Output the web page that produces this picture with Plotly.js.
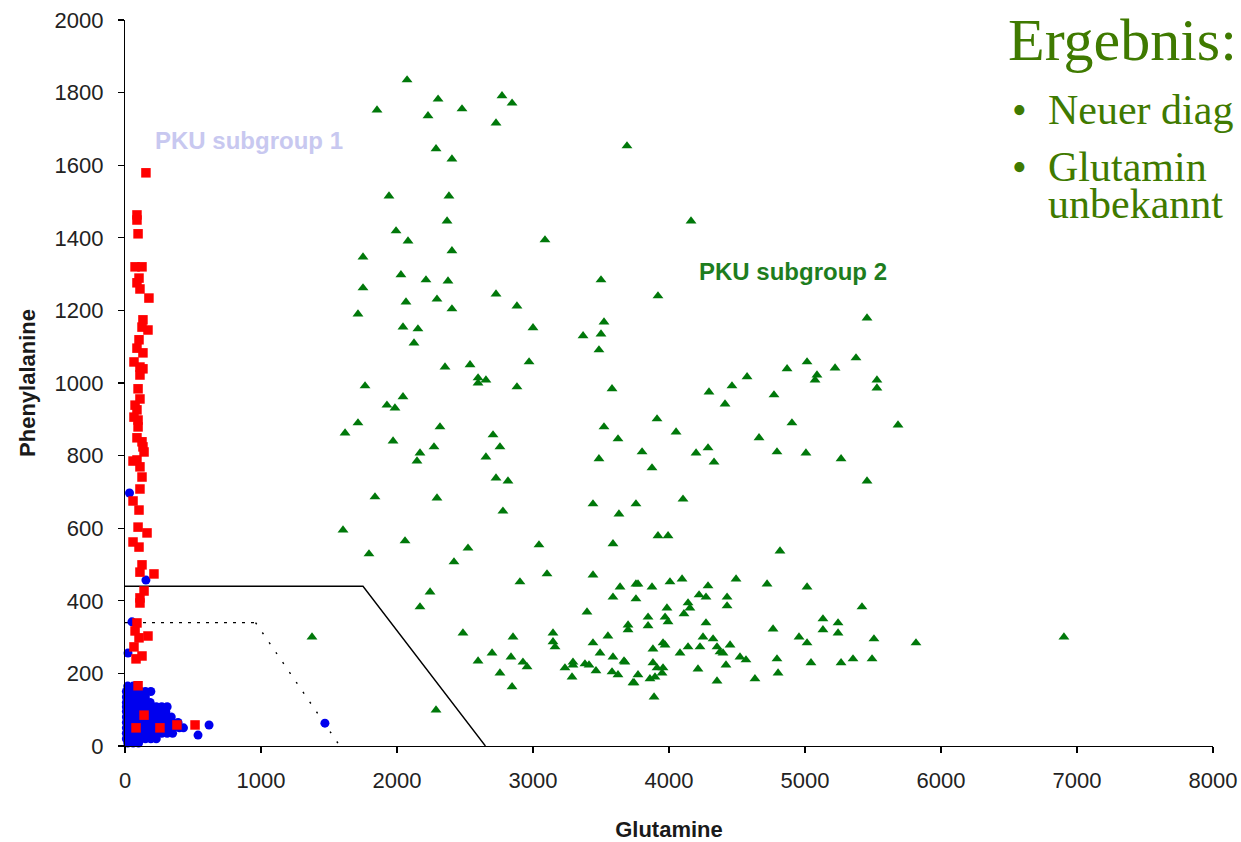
<!DOCTYPE html>
<html>
<head>
<meta charset="utf-8">
<script src="https://cdn.plot.ly/plotly-3.0.1.min.js"></script>
<style>
html,body{margin:0;padding:0;background:#fff;overflow:hidden;}
#chart{width:1241px;height:842px;}
</style>
</head>
<body>
<div id="chart"></div>
<script>
// ---- Data (Glutamine on x, Phenylalanine on y) ----
const controlX = [20,60,
 10,45,80,115,150,190,
 10,45,80,115,150,
 10,45,80,115,150,185,
 10,45,80,115,150,190,230,270,310,
 10,45,80,115,150,190,230,270,300,
 10,45,80,115,150,190,230,270,310,340,
 10,45,80,115,150,190,230,270,310,350,390,
 10,45,80,115,150,190,230,270,310,350,400,430,
 10,45,80,115,150,190,230,270,310,350,
 10,45,80,115,150,190,230,
 20,60,100,
 618,537,1470,33,154,51,22];
const controlY = [165,165,
 150,150,150,150,150,150,
 135,135,135,135,135,
 120,120,120,120,120,120,
 108,108,108,108,108,108,108,108,108,
 95,95,95,95,95,95,95,95,95,
 80,80,80,80,80,80,80,80,80,80,
 65,65,65,65,65,65,65,65,65,65,65,
 50,50,50,50,50,50,50,50,50,50,50,50,
 35,35,35,35,35,35,35,35,35,35,
 20,20,20,20,20,20,20,
 8,8,8,
 58,30,63,697,457,342,256];

const pku1X = [154,88,88,96,74,125,103,88,110,176,132,125,169,103,88,132,66,110,132,110,96,110,74,88,66,96,96,88,125,132,140,88,59,110,125,110,59,103,96,162,59,103,125,110,213,140,110,110,88,74,103,169,66,125,81,96,140,81,257,382,515];
const pku1Y = [1579,1463,1449,1411,1320,1320,1289,1276,1259,1234,1174,1154,1146,1119,1096,1083,1058,1044,1039,1022,984,956,939,926,906,898,879,849,838,824,810,788,785,769,741,708,675,650,603,587,562,548,499,479,474,427,408,394,339,317,298,303,273,248,240,166,85,50,50,58,58];

const pku2X = [2074,1853,2302,2228,2478,2772,2846,2728,3691,2287,2404,1941,2382,1993,2081,2368,2404,3088,1750,2029,2213,2375,3500,1750,2066,2294,2404,2728,2882,1713,2044,2154,2125,3000,3522,3368,3500,3485,2353,2537,2971,2596,2654,2596,2882,3581,1765,2044,1926,1985,1713,1618,1971,2316,2706,2757,2654,2169,2147,2272,3522,3625,3485,2728,2816,1838,2294,2779,3441,3632,3757,1603,2059,1794,2522,2419,3044,3588,3103,2904,3441,2243,2169,3640,3588,3757,3757,3397,2485,2853,3147,3147,3162,3441,3551,3699,3699,2699,2596,2838,2926,2956,2757,2846,3235,3294,3294,3287,3382,3412,3463,3493,3588,3669,3581,3625,3743,2287,4162,3919,5456,5375,5015,5221,4868,5088,5074,4574,4463,4294,4412,4772,5529,5529,3912,4052,4904,5684,4662,3802,3875,4199,4287,4331,4794,5007,5265,5456,4103,3919,3993,4816,3772,3875,4007,4096,4287,4493,4721,5015,4140,4154,4110,4221,4272,4427,4427,3985,3971,3993,3846,3846,4272,5419,5132,5132,5243,5243,4765,4956,5015,5507,5816,3956,3971,3882,4250,4324,4353,4375,4397,4228,4140,4081,4449,4522,4566,4794,5044,5265,5353,5493,3676,3882,3912,3956,3949,3897,3860,3772,3735,4213,4419,4353,4632,4802,3890,6904,1375];
const pku2Y = [1835,1752,1782,1736,1755,1791,1771,1716,1653,1645,1617,1515,1515,1419,1391,1446,1364,1394,1347,1298,1284,1281,1284,1262,1223,1231,1204,1245,1212,1190,1154,1149,1110,1152,1168,1130,1135,1091,1044,1050,1058,1014,1008,1000,989,984,992,962,939,931,890,862,840,879,857,824,796,807,785,824,879,846,791,738,730,686,683,647,667,639,667,595,565,529,545,507,554,557,474,452,471,424,383,438,410,405,446,369,311,300,311,287,273,284,303,333,320,256,234,245,231,218,201,163,215,231,223,190,226,223,207,256,245,234,204,196,174,99,1446,1240,1179,1069,1058,1041,1039,1022,1008,1017,992,975,942,967,1008,986,901,865,890,884,849,810,766,807,821,782,810,807,791,730,680,579,579,537,446,438,452,460,441,460,446,438,394,380,364,416,410,410,386,380,355,342,355,331,339,383,350,320,339,311,322,300,284,295,284,284,278,267,300,295,273,259,256,273,273,256,278,245,237,240,229,229,240,240,231,229,215,215,201,190,185,196,174,212,223,179,185,201,135,300,300];

// decision boundaries
const solidBoundX = [0,1750,2650];
const solidBoundY = [440,440,0];
const dotFlatX = [0,960];
const dotFlatY = [340,340];
const dotSlopeX = [960,1580];
const dotSlopeY = [340,0];

const xTicks = [0,1000,2000,3000,4000,5000,6000,7000,8000];
const yTicks = [0,200,400,600,800,1000,1200,1400,1600,1800,2000];

const labelGroup1 = {x: 912, y: 1669, text: 'PKU subgroup 1'};
const labelGroup2 = {x: 4912, y: 1306, text: 'PKU subgroup 2'};

const slideLines = ['Ergebnis:', 'Neuer diag', 'Glutamin', 'unbekannt'];

// ---- Traces ----
const traces = [
  {x: solidBoundX, y: solidBoundY, mode: 'lines', line: {color: '#000', width: 1.4}, hoverinfo: 'skip', showlegend: false},
  {x: dotFlatX, y: dotFlatY, mode: 'lines', line: {color: '#000', width: 1.4, dash: '3px,6px'}, hoverinfo: 'skip', showlegend: false},
  {x: dotSlopeX, y: dotSlopeY, mode: 'lines', line: {color: '#000', width: 1.4, dash: '2px,10px'}, hoverinfo: 'skip', showlegend: false},
  {x: controlX, y: controlY, mode: 'markers', type: 'scatter', name: 'Controls', cliponaxis: false,
   marker: {symbol: 'circle', size: 9, color: '#0000ee', line: {width: 0}}, showlegend: false},
  {x: pku1X, y: pku1Y, mode: 'markers', type: 'scatter', name: 'PKU subgroup 1', cliponaxis: false,
   marker: {symbol: 'square', size: 9.5, color: '#ff0000', line: {width: 0}}, showlegend: false},
  {x: pku2X, y: pku2Y, mode: 'markers', type: 'scatter', name: 'PKU subgroup 2', cliponaxis: false,
   marker: {symbol: 'triangle-up', size: 9.5, color: '#00780a', line: {width: 0}}, showlegend: false}
];

const axisFont = {family: 'Liberation Sans, Arial, sans-serif', size: 22, color: '#222'};
const titleFont = {family: 'Liberation Sans, Arial, sans-serif', size: 22, color: '#1a1a1a', weight: 'bold'};
const serif = 'Liberation Serif, Times New Roman, serif';
const slideColor = '#3f7a00';

const px = (p) => (p - 125) / 1088;   // paper x from pixel
const py = (p) => (746 - p) / 726;    // paper y from pixel

const annotations = [
  {x: labelGroup1.x, y: labelGroup1.y, xref: 'x', yref: 'y', text: '<b>' + labelGroup1.text + '</b>', showarrow: false,
   font: {family: 'Liberation Sans, Arial, sans-serif', size: 24, color: '#c8c8f0'}},
  {x: labelGroup2.x, y: labelGroup2.y, xref: 'x', yref: 'y', text: '<b>' + labelGroup2.text + '</b>', showarrow: false,
   font: {family: 'Liberation Sans, Arial, sans-serif', size: 24, color: '#1e7d1e'}},
  {x: px(1006), y: py(40), xref: 'paper', yref: 'paper', xanchor: 'left', yanchor: 'middle', text: slideLines[0], showarrow: false,
   font: {family: serif, size: 60, color: slideColor}},
  {x: px(1010), y: py(110), xref: 'paper', yref: 'paper', xanchor: 'left', yanchor: 'middle', text: '•', showarrow: false,
   font: {family: serif, size: 42, color: slideColor}},
  {x: px(1046), y: py(110), xref: 'paper', yref: 'paper', xanchor: 'left', yanchor: 'middle', text: slideLines[1], showarrow: false,
   font: {family: serif, size: 42, color: slideColor}},
  {x: px(1010), y: py(167), xref: 'paper', yref: 'paper', xanchor: 'left', yanchor: 'middle', text: '•', showarrow: false,
   font: {family: serif, size: 42, color: slideColor}},
  {x: px(1046), y: py(167), xref: 'paper', yref: 'paper', xanchor: 'left', yanchor: 'middle', text: slideLines[2], showarrow: false,
   font: {family: serif, size: 42, color: slideColor}},
  {x: px(1046), y: py(204), xref: 'paper', yref: 'paper', xanchor: 'left', yanchor: 'middle', text: slideLines[3], showarrow: false,
   font: {family: serif, size: 42, color: slideColor}}
];

const layout = {
  width: 1241, height: 842,
  margin: {l: 125, r: 28, t: 20, b: 96, pad: 0},
  paper_bgcolor: '#ffffff', plot_bgcolor: '#ffffff',
  showlegend: false,
  xaxis: {
    range: [0, 8000], tickvals: xTicks, ticktext: xTicks.map(String),
    showgrid: false, zeroline: false, showline: true, linecolor: '#000', linewidth: 1.2,
    ticks: 'outside', ticklen: 6, tickcolor: '#000', tickwidth: 1.2,
    tickfont: axisFont, ticklabelstandoff: 8,
    title: {text: 'Glutamine', font: titleFont, standoff: 30}
  },
  yaxis: {
    range: [0, 2000], tickvals: yTicks, ticktext: yTicks.map(String),
    showgrid: false, zeroline: false, showline: true, linecolor: '#000', linewidth: 1.2,
    ticks: 'outside', ticklen: 6, tickcolor: '#000', tickwidth: 1.2,
    tickfont: axisFont, ticklabelstandoff: 10,
    title: {text: 'Phenylalanine', font: titleFont, standoff: 12}
  },
  annotations: annotations
};

Plotly.newPlot('chart', traces, layout, {displayModeBar: false, staticPlot: true});
</script>
</body>
</html>
